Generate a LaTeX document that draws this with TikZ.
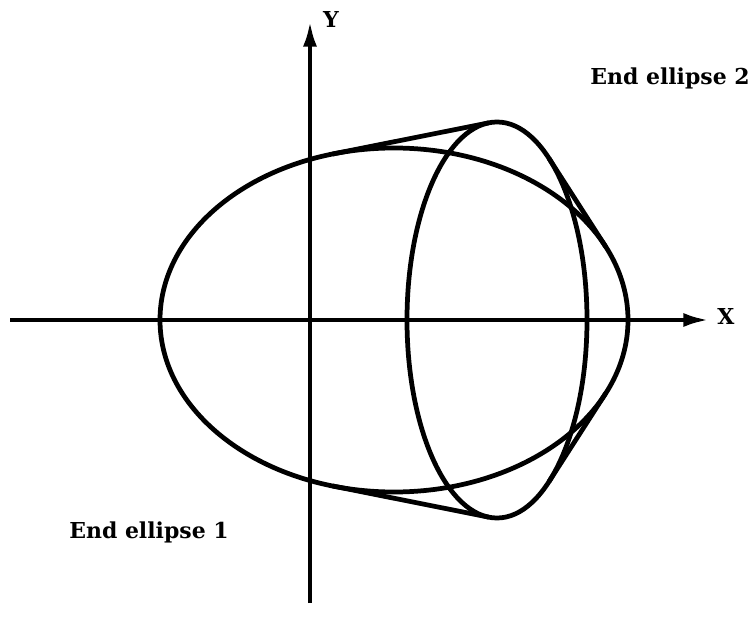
\documentclass[tikz,border=0pt]{standalone}
\usepackage{fontspec}
\setmainfont{DejaVu Serif}
\usepackage{tikz}
\usetikzlibrary{
	arrows.meta,
	calc
}

\begin{document}
\begin{tikzpicture}[
	x=0.02cm,
	y=0.02cm,
	every node/.style={
		font=\fontsize{12.5}{15}\selectfont\bfseries
	},
	axisline/.style={
		line width=2.1pt,
		-{Latex[length=14pt,width=8pt]}
	},
	curveline/.style={
		line width=2.7pt
	}
	]
	
	\useasboundingbox (0,0) rectangle (754,616);
	
	% centres of the two end ellipses
	\coordinate (E1) at (394,296);
	\coordinate (E2) at (497,296);
	
	% axes
	\coordinate (Xs) at (10,296);
	\coordinate (Xe) at (708,296);
	\coordinate (Ys) at (310,13);
	\coordinate (Ye) at (310,594);
	
	\draw[axisline] (Xs) -- (Xe);
	\draw[axisline] (Ys) -- (Ye);
	
	\node (xlbl) at (726,300) {X};
	\node (ylbl) at (331,597) {Y};
	
	% end ellipses
	\draw[curveline] (E1) ellipse [x radius=234, y radius=172];
	\draw[curveline] (E2) ellipse [x radius=90, y radius=198];
	
	% tangent points
	\coordinate (TL1) at ($(E1)+(105.2:234 and 172)$);
	\coordinate (TL2) at ($(E2)+(95.2:90 and 198)$);
	\coordinate (BL1) at ($(E1)+(-105.2:234 and 172)$);
	\coordinate (BL2) at ($(E2)+(-95.2:90 and 198)$);
	\coordinate (TR1) at ($(E1)+(25.2:234 and 172)$);
	\coordinate (TR2) at ($(E2)+(54.7:90 and 198)$);
	\coordinate (BR1) at ($(E1)+(-25.2:234 and 172)$);
	\coordinate (BR2) at ($(E2)+(-54.7:90 and 198)$);
	
	\draw[curveline] (TL1) -- (TL2);
	\draw[curveline] (BL1) -- (BL2);
	\draw[curveline] (TR2) -- (TR1);
	\draw[curveline] (BR2) -- (BR1);
	
	\node (end2) at (670,538) {End ellipse 2};
	\node (end1) at (149,84) {End ellipse 1};
	
\end{tikzpicture}
\end{document}
